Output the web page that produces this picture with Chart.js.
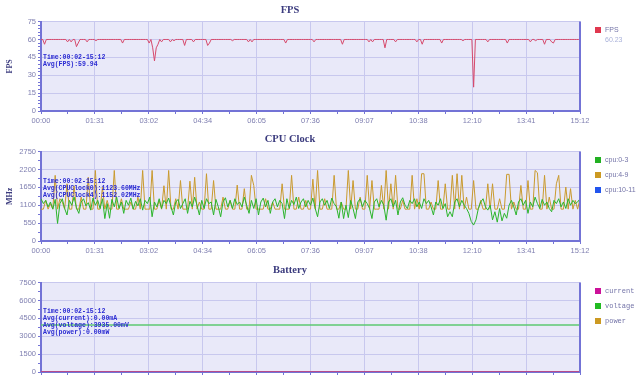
<!DOCTYPE html>
<html>
<head>
<meta charset="utf-8">
<script src="https://cdn.jsdelivr.net/npm/chart.js@4.4.1/dist/chart.umd.min.js"></script>
<style>
  body { margin: 0; background: #fff; overflow: hidden; }
  #wrap { position: relative; width: 640px; height: 375px; overflow: hidden; }
  canvas { position: absolute; left: 0; }
</style>
</head>
<body>
<div id="wrap">
  <canvas id="fps" width="640" height="130" style="top:0px"></canvas>
  <canvas id="cpu" width="640" height="130" style="top:130px"></canvas>
  <canvas id="bat" width="640" height="130" style="top:261px"></canvas>
</div>
<script>
// tick labels
const timeLabels = ['00:00','01:31','03:02','04:34','06:05','07:36','09:07','10:38','12:10','13:41','15:12'];
const fpsTicks = [0, 15, 30, 45, 60, 75];
const cpuTicks = [0, 550, 1100, 1650, 2200, 2750];
const batTicks = [0, 1500, 3000, 4500, 6000, 7500];

// sample step in seconds for each series
const FPS_STEP = 3;
const CPU_STEP = 4;

// fps, one value every 3 s
const fpsValues = [
  60,60,56,60,60,60,60,60,60,60,60,60,60,60,60,58,60,58,60,60,
  54,57,60,60,60,60,58,60,60,60,60,59,60,60,60,60,60,60,60,60,
  60,60,60,60,60,60,57,60,60,60,60,60,60,60,60,60,60,60,60,60,
  60,57,60,53,42,53,56,60,58,60,60,60,60,58,60,59,60,60,60,60,
  60,55,60,60,60,60,58,60,60,60,60,60,60,60,55,57,60,60,60,60,
  60,60,60,60,60,60,60,60,59,60,60,60,60,60,60,60,60,58,60,58,
  60,60,60,60,60,60,60,60,60,60,60,60,60,60,60,60,60,60,57,60,
  60,60,60,60,60,60,60,60,60,60,60,60,60,60,58,60,60,60,60,60,
  60,60,60,60,60,60,60,60,60,60,56,60,60,60,60,60,60,60,60,60,
  60,60,60,60,60,58,60,58,60,60,60,60,60,60,53,60,60,60,60,60,
  58,60,60,60,60,60,60,60,60,60,60,60,58,60,60,56,60,60,60,60,
  60,60,60,60,60,60,57,60,60,60,60,60,60,60,60,60,60,60,59,60,
  60,60,60,60,20,60,60,60,60,60,60,60,58,60,60,60,60,60,60,60,
  60,60,60,57,60,60,60,60,60,60,60,60,60,60,60,60,58,60,60,59,
  60,60,60,60,56,60,60,60,58,57,60,60,60,60,60,60,60,60,60,60,
  60,60,60,60,60
];

// cpu clocks in MHz, one value every 4 s
const cpu03 = [
  1300,1150,1250,1050,1200,980,1280,540,1150,1300,1000,800,1250,1100,1350,1020,850,1200,1300,1080,
  1180,950,1320,1100,1250,1000,1300,690,1150,700,1280,1050,1350,1000,1200,850,1250,1100,1320,980,
  1220,1080,1300,950,1250,1150,1350,745,1200,1050,1300,1000,1250,1150,1320,1050,800,1200,1280,1000,
  1150,1300,850,1220,1050,1350,1100,800,1250,1000,1300,1150,1200,800,1280,1050,745,1200,1330,1050,
  1250,1000,1300,1120,1200,1050,1350,1100,850,1250,1000,1300,800,1200,1320,1050,1250,850,1200,1300,
  1050,1250,1150,690,1300,1000,1250,1120,1350,1000,1200,1300,1050,1250,1100,1320,1000,745,1200,1300,
  1100,1250,1000,1320,1150,1050,700,1200,690,1100,720,1250,1000,690,1200,1300,1050,1250,1150,1000,
  690,1200,1300,1050,1250,1100,640,1200,1300,1050,1250,800,1200,1330,1100,1000,1250,1150,1300,1050,
  1200,1000,1300,1150,1250,1050,800,1200,1100,1300,1000,1150,745,900,745,1200,1300,1050,1250,1100,
  1000,850,600,490,650,1000,1200,1300,1050,950,1100,650,900,580,1000,620,850,700,1100,1250,
  1050,800,1200,1300,1100,1250,850,1200,1050,1350,1150,1000,1280,1100,1200,1000,900,1250,1150,1300,
  1050,1200,1000,1300,1100,1250,1150,1200,1300
];
const cpu49 = [
  980,980,1250,980,1150,980,2020,980,1300,1200,980,1760,980,980,1700,980,980,1350,980,980,
  1960,980,980,2170,980,980,1650,980,1250,980,980,2170,980,980,1300,980,980,980,1200,980,
  980,1350,980,2170,980,980,980,2170,980,980,1250,980,1700,980,2170,980,980,1300,980,1860,
  980,980,980,1840,980,1960,980,1200,980,980,2070,980,980,1860,980,980,980,1350,980,980,
  1250,980,980,1720,980,980,1610,980,980,2020,1710,980,980,980,980,1300,980,980,1200,980,
  980,980,1760,980,980,980,2020,980,980,1350,980,980,1250,980,980,1900,980,2170,980,980,
  1300,980,980,980,2020,980,980,1200,980,980,2170,980,1860,980,980,1350,980,980,2020,980,
  1860,980,980,980,1710,980,2170,980,1760,980,2020,980,980,1250,980,980,980,2020,980,1300,
  980,2070,2070,980,980,1200,980,980,1860,980,980,1760,980,980,2020,980,2070,980,2020,980,
  1350,980,980,1860,980,980,1250,980,980,1760,980,1760,980,980,1300,980,980,2050,2050,980,
  1200,980,980,1710,980,980,1860,980,980,2170,2100,980,980,2020,980,1350,980,980,1760,2020,
  980,980,1660,980,1610,980,1250,980,1300
];
const cpu1011 = [];

// battery
const batTimes = [0, 912];
const batCurrent = [0, 0];
const batVoltage = [3935, 3935];
const batPower = [0, 0];

const AXIS = '#7373d6';
const GRID = '#c8c8ee';
const PLOT_BG = '#e9e9f9';
const TICK_TEXT = '#7e7eb0';
const NOTE = '#2a2ad2';

Chart.defaults.font.family = "'Liberation Sans', sans-serif";
Chart.defaults.animation = false;

function panel(c) {
  return {
    id: 'panel',
    beforeDraw(chart) {
      const a = chart.chartArea, ctx = chart.ctx;
      ctx.save();
      ctx.fillStyle = PLOT_BG;
      ctx.fillRect(a.left, a.top, a.right - a.left, a.bottom - a.top);
      ctx.restore();
    },
    afterDraw(chart) {
      const a = chart.chartArea, ctx = chart.ctx;
      ctx.save();
      // right border of the plot
      ctx.strokeStyle = AXIS;
      ctx.lineWidth = 2;
      ctx.beginPath();
      ctx.moveTo(a.right, a.top);
      ctx.lineTo(a.right, a.bottom + 1);
      ctx.stroke();
      // summary text
      ctx.fillStyle = NOTE;
      ctx.font = "bold 6.5px 'Liberation Mono', monospace";
      ctx.textBaseline = 'middle';
      c.notes.forEach((t, i) => ctx.fillText(t, a.left + 2, c.noteY + i * 7));
      // legend
      ctx.font = c.legendFont;
      chart.data.datasets.forEach((ds, i) => {
        const y = 30 + i * 15;
        ctx.fillStyle = ds.legendColor;
        ctx.fillRect(595, y - 3, 6, 6);
        ctx.fillStyle = '#7474a8';
        ctx.fillText(ds.label, 605, y);
        if (c.legendSub) {
          ctx.fillStyle = '#aab2da';
          ctx.fillText(c.legendSub, 605, y + 10);
        }
      });
      ctx.restore();
    }
  };
}

function makeChart(id, c) {
  const ctx = document.getElementById(id).getContext('2d');
  return new Chart(ctx, {
    type: 'line',
    data: { labels: c.labels, datasets: c.datasets },
    options: {
      responsive: false,
      devicePixelRatio: 1,
      animation: false,
      layout: { padding: { left: 0, right: 60, top: 0, bottom: 0 } },
      elements: { point: { radius: 0 }, line: { borderWidth: 1, tension: 0 } },
      plugins: {
        legend: { display: false },
        tooltip: { enabled: false },
        title: {
          display: true, text: c.title, color: '#3b3b7e',
          font: { family: "'Liberation Serif', serif", size: 10.5, weight: 'bold' },
          padding: { top: c.titleTop, bottom: 9 - c.titleTop }
        }
      },
      scales: {
        x: {
          type: 'linear', min: 0, max: 912, z: c.xOnTop ? 1 : 0,
          afterFit: s => { s.height = 19; },
          border: { color: AXIS, width: 2 },
          grid: { color: g => g.index % 2 === 0 ? GRID : 'rgba(0,0,0,0)', tickColor: AXIS, tickLength: 3 },
          ticks: {
            stepSize: 45.6, autoSkip: false, maxRotation: 0, color: TICK_TEXT,
            font: { size: 7.5 }, padding: 2,
            callback: (v, i) => i % 2 === 0 ? timeLabels[i / 2] : ''
          }
        },
        y: {
          min: 0, max: c.yMax,
          afterFit: s => { s.width = 41; },
          border: { color: AXIS, width: 2 },
          grid: { color: g => c.yLabels.includes(g.tick.value) ? GRID : 'rgba(0,0,0,0)', tickColor: AXIS, tickLength: 3 },
          ticks: {
            stepSize: c.yStep, autoSkip: false, color: TICK_TEXT,
            font: { size: 7.5 }, padding: 2,
            callback: v => c.yLabels.includes(v) ? v : ''
          },
          title: {
            display: !!c.yTitle, text: c.yTitle || '', color: '#3b3b7e',
            font: { family: "'Liberation Serif', serif", size: 8, weight: 'bold' },
            padding: { top: 5, bottom: 2 }
          }
        }
      }
    },
    plugins: [panel(c)]
  });
}

makeChart('fps', {
  title: 'FPS', titleTop: 4, yTitle: 'FPS', yMax: 75, yStep: 3, yLabels: fpsTicks,
  labels: fpsValues.map((v, i) => i * FPS_STEP),
  datasets: [
    { label: 'FPS', data: fpsValues, borderColor: '#d64a6c', legendColor: '#e0384f' }
  ],
  notes: ['Time:00:02-15:12', 'Avg(FPS):59.94'], noteY: 57,
  legendFont: "7px 'Liberation Sans'", legendSub: '60.23'
});

makeChart('cpu', {
  title: 'CPU Clock', titleTop: 3, yTitle: 'MHz', yMax: 2750, yStep: 275, yLabels: cpuTicks,
  labels: cpu03.map((v, i) => i * CPU_STEP),
  datasets: [
    { label: 'cpu:0-3', data: cpu03, borderColor: '#2cb42c', legendColor: '#22b022' },
    { label: 'cpu:4-9', data: cpu49, borderColor: '#c99a2e', legendColor: '#cc9922' },
    { label: 'cpu:10-11', data: cpu1011, borderColor: '#2255ee', legendColor: '#2255ee' }
  ],
  notes: ['Time:00:02-15:12', 'Avg(CPUClock0):1123.60MHz', 'Avg(CPUClock4):1152.02MHz'], noteY: 51,
  legendFont: "7px 'Liberation Sans'"
});

makeChart('bat', {
  title: 'Battery', titleTop: 3, yTitle: '', yMax: 7500, yStep: 750, yLabels: batTicks, xOnTop: true,
  labels: batTimes,
  datasets: [
    { label: 'current', data: batCurrent, borderColor: '#cc1199', legendColor: '#cc1199' },
    { label: 'voltage', data: batVoltage, borderColor: '#5cc872', borderWidth: 1.5, legendColor: '#22bb22' },
    { label: 'power', data: batPower, borderColor: '#cc9922', legendColor: '#cc9922' }
  ],
  notes: ['Time:00:02-15:12', 'Avg(current):0.00mA', 'Avg(voltage):3935.00mV', 'Avg(power):0.00mW'], noteY: 50,
  legendFont: "7px 'Liberation Mono'"
});
</script>
</body>
</html>
